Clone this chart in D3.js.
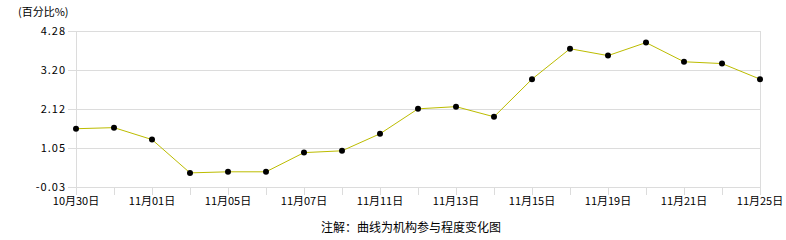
<!DOCTYPE html>
<html>
<head>
<meta charset="utf-8">
<script src="https://cdnjs.cloudflare.com/ajax/libs/d3/7.8.5/d3.min.js"></script>
<style>
  body { margin: 0; background: #fff; }
  text { font-family: "Noto Sans CJK SC", "DejaVu Sans", sans-serif; }
</style>
</head>
<body>
<div id="chart"></div>
<script>
// data
var dates = ["10月30日", "10月31日", "11月01日", "11月04日", "11月05日", "11月06日", "11月07日",
             "11月08日", "11月11日", "11月12日", "11月13日", "11月14日", "11月15日", "11月18日",
             "11月19日", "11月20日", "11月21日", "11月22日", "11月25日"];
var values = [1.58, 1.61, 1.28, 0.36, 0.39, 0.39, 0.92, 0.97, 1.44, 2.13, 2.19, 1.91,
              2.95, 3.79, 3.60, 3.96, 3.43, 3.38, 2.95];
var yTicks = [-0.03, 1.05, 2.12, 3.20, 4.28];

function draw() {
  var W = 786, H = 240;
  var pLeft = 76, pRight = 760, pTop = 31, pBottom = 187;

  var svg = d3.select("#chart").append("svg")
      .attr("width", W).attr("height", H);

  var x = d3.scalePoint().domain(dates).range([pLeft, pRight]);
  var y = d3.scaleLinear().domain([-0.03, 4.28]).range([pBottom, pTop]);

  // horizontal grid
  svg.append("g").selectAll("line").data(yTicks).enter().append("line")
      .attr("x1", pLeft - 8).attr("x2", pRight)
      .attr("y1", function(d) { return Math.round(y(d)) + 0.5; })
      .attr("y2", function(d) { return Math.round(y(d)) + 0.5; })
      .attr("stroke", "#dcdcdc");

  // left + right borders
  [pLeft, pRight].forEach(function(px) {
    svg.append("line")
      .attr("x1", px + 0.5).attr("x2", px + 0.5)
      .attr("y1", pTop).attr("y2", pBottom + 8)
      .attr("stroke", "#dcdcdc");
  });

  // x ticks
  svg.append("g").selectAll("line").data(dates).enter().append("line")
      .attr("x1", function(d) { return Math.round(x(d)) + 0.5; })
      .attr("x2", function(d) { return Math.round(x(d)) + 0.5; })
      .attr("y1", pBottom).attr("y2", pBottom + 8)
      .attr("stroke", "#dcdcdc");

  // y labels
  svg.append("g").selectAll("text").data(yTicks).enter().append("text")
      .attr("x", 66).attr("y", function(d) { return y(d) + 4; })
      .attr("text-anchor", "end")
      .attr("font-size", 11).attr("letter-spacing", 1)
      .text(function(d) { return d.toFixed(2); });

  // x labels, every other date
  svg.append("g").selectAll("text")
      .data(dates.filter(function(d, i) { return i % 2 == 0; }))
      .enter().append("text")
      .attr("x", function(d) { return x(d); })
      .attr("y", 205)
      .attr("text-anchor", "middle")
      .attr("font-size", 11)
      .text(function(d) { return d; });

  // line
  var line = d3.line()
      .x(function(d, i) { return x(dates[i]); })
      .y(function(d) { return y(d); });
  svg.append("path")
      .datum(values)
      .attr("d", line)
      .attr("fill", "none")
      .attr("stroke", "#bcbc00")
      .attr("stroke-width", 1);

  // points
  svg.append("g").selectAll("circle").data(values).enter().append("circle")
      .attr("cx", function(d, i) { return x(dates[i]); })
      .attr("cy", function(d) { return y(d); })
      .attr("r", 3)
      .attr("fill", "#000");

  // unit label
  svg.append("text")
      .attr("x", 18).attr("y", 16)
      .attr("font-size", 11)
      .text("(百分比%)");

  // footer
  svg.append("text")
      .attr("x", 411).attr("y", 232)
      .attr("text-anchor", "middle")
      .attr("font-size", 12)
      .text("注解：曲线为机构参与程度变化图");
}
draw();
</script>
</body>
</html>
